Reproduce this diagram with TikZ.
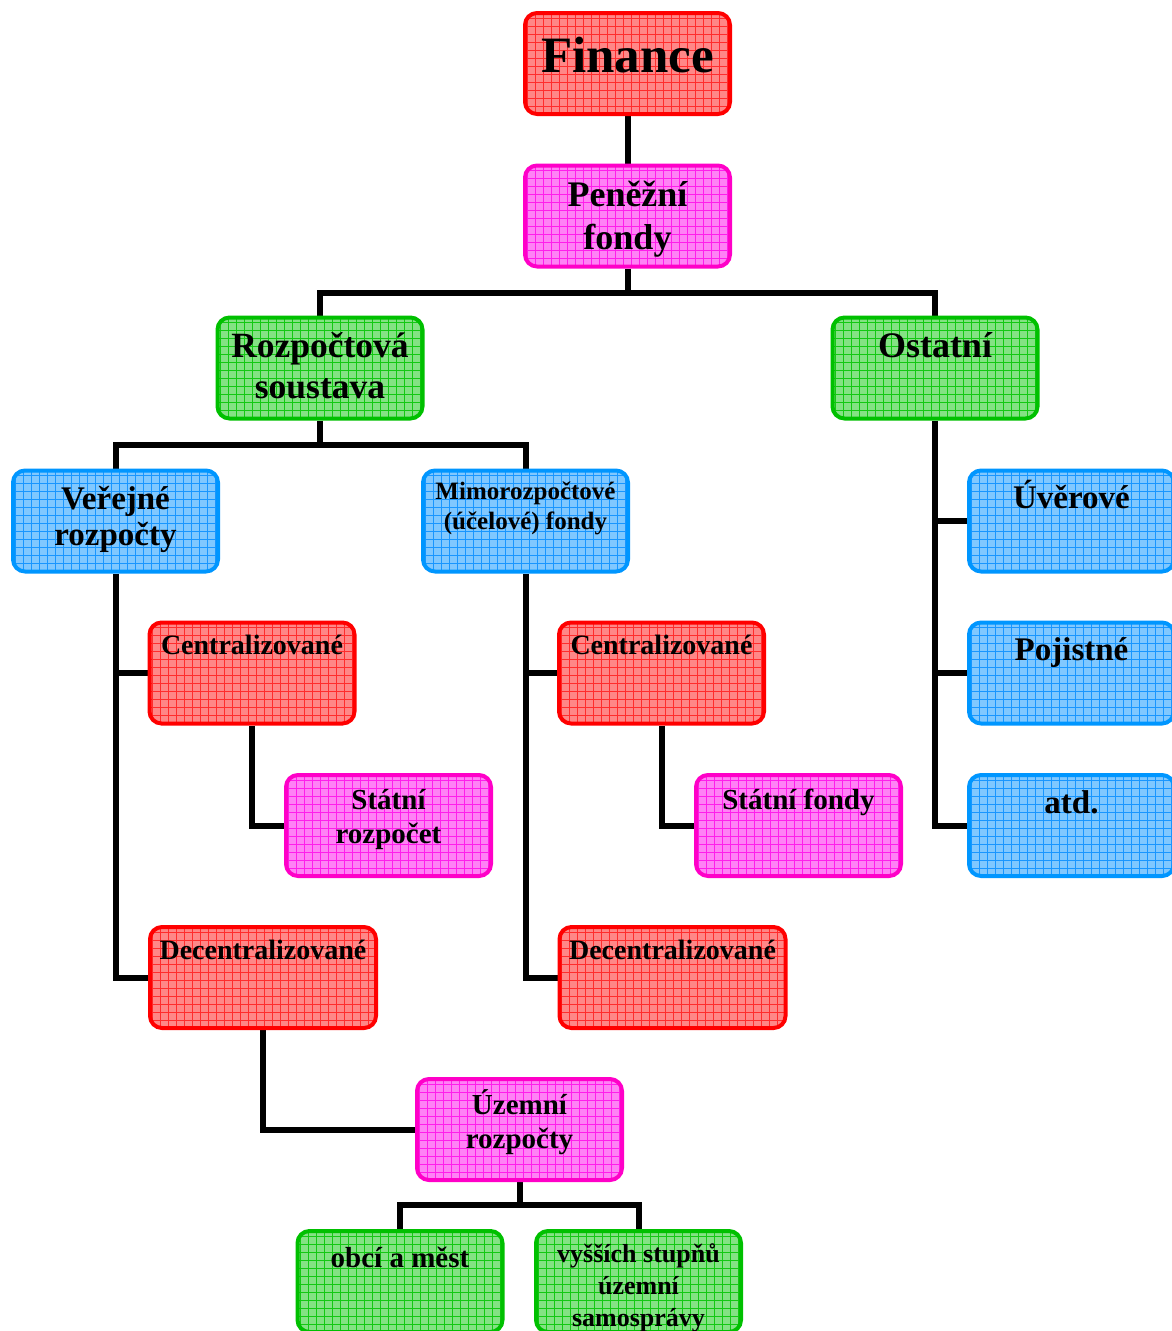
\documentclass[tikz,border=0pt]{standalone}
\usepackage{fontspec}
\setmainfont{Liberation Serif}
\usetikzlibrary{calc}
\definecolor{rB}{RGB}{255,0,0}
\definecolor{rF}{RGB}{255,135,135}
\definecolor{rG}{RGB}{255,45,45}
\definecolor{mB}{RGB}{255,0,200}
\definecolor{mF}{RGB}{255,130,245}
\definecolor{mG}{RGB}{255,30,235}
\definecolor{gB}{RGB}{0,192,0}
\definecolor{gF}{RGB}{132,226,132}
\definecolor{gG}{RGB}{20,200,20}
\definecolor{bB}{RGB}{0,150,255}
\definecolor{bF}{RGB}{128,200,255}
\definecolor{bG}{RGB}{25,150,255}
\newcommand{\bx}[5]{\parbox[c][101pt][t]{#1pt}{\centering\hyphenpenalty=10000\fontsize{#3}{#4}\selectfont\lineskiplimit=-100pt\rule{0pt}{#2pt}#5}}
\pgfdeclarelayer{bg}
\pgfsetlayers{bg,main}
\tikzset{
  box/.style={rounded corners=12pt, line width=4pt, inner sep=0pt,
    minimum height=101pt, minimum width=205pt, font=\bfseries},
  tiles/.style n args={3}{draw=#1, fill=#2,
    path picture={\draw[#3, line width=0.6pt, step=8pt]
      (path picture bounding box.south west) grid (path picture bounding box.north east);}},
  redbox/.style={box, tiles={rB}{rF}{rG}},
  magbox/.style={box, tiles={mB}{mF}{mG}},
  grnbox/.style={box, tiles={gB}{gF}{gG}},
  blubox/.style={box, tiles={bB}{bF}{bG}},
  wide/.style={minimum width=226pt},
  conn/.style={line width=6pt, black},
}
\begin{document}
\begin{tikzpicture}[x=1pt,y={(0pt,-1pt)}]
\useasboundingbox (0,0) rectangle (1172,1331);

\node[redbox] (fin) at (627.5,63.5) {\bx{200}{59}{51}{58}{Finance}};
\node[magbox] (pen) at (627.5,216) {\bx{200}{41}{36}{43}{Peněžní\\fondy}};
\node[grnbox] (roz) at (320,368) {\bx{200}{40}{35.5}{41}{Rozpočtová\\soustava}};
\node[grnbox] (ost) at (935,368) {\bx{200}{40}{36}{41}{Ostatní}};
\node[blubox] (ver) at (115.5,521) {\bx{200}{39}{33}{36}{Veřejné\\rozpočty}};
\node[blubox] (mim) at (525.5,521) {\bx{200}{29}{25}{30}{Mimorozpočtové\\(účelové) fondy}};
\node[blubox] (uve) at (1071.5,521) {\bx{200}{38}{33}{36}{Úvěrové}};
\node[blubox] (poj) at (1071.5,673) {\bx{200}{38}{33}{36}{Pojistné}};
\node[blubox] (atd) at (1071.5,825.5) {\bx{200}{38}{33}{36}{atd.}};
\node[redbox] (cen1) at (252,673) {\bx{200}{32}{28}{32}{Centralizované}};
\node[magbox] (str) at (388.5,825.5) {\bx{200}{34}{29}{34}{Státní\\rozpočet}};
\node[redbox] (cen2) at (661.5,673) {\bx{200}{32}{28}{32}{Centralizované}};
\node[magbox] (sfo) at (798.5,825.5) {\bx{200}{34}{29}{34}{Státní fondy}};
\node[redbox, wide] (dec1) at (263,977.5) {\bx{222}{32}{28}{32}{Decentralizované}};
\node[redbox, wide] (dec2) at (672.5,977.5) {\bx{222}{32}{28}{32}{Decentralizované}};
\node[magbox] (uze) at (519.5,1129.5) {\bx{200}{35}{29}{34}{Územní\\rozpočty}};
\node[grnbox] (obc) at (400,1281.5) {\bx{200}{36}{29}{34}{obcí a měst}};
\node[grnbox] (vys) at (638.5,1281.5) {\bx{200}{31}{26}{32}{vyšších stupňů\\územní\\samosprávy}};

\begin{pgfonlayer}{bg}
\fill[white] (0,0) rectangle (1172,1331);
\draw[conn] (fin.south) -- (pen.north);
\draw[conn] (pen.south) -- ++(0,24) coordinate (pj);
\draw[conn] (roz.north) |- (pj) -| (ost.north);
\draw[conn] (roz.south) -- ++(0,24) coordinate (rj);
\draw[conn] (ver.north) |- (rj) -| (mim.north);
\draw[conn] (ost.south) |- (atd.west);
\draw[conn] (ost.south |- uve.west) -- (uve.west);
\draw[conn] (ost.south |- poj.west) -- (poj.west);
\draw[conn] (ver.south) |- (dec1.west);
\draw[conn] (ver.south |- cen1.west) -- (cen1.west);
\draw[conn] (cen1.south) |- (str.west);
\draw[conn] (mim.south) |- (dec2.west);
\draw[conn] (mim.south |- cen2.west) -- (cen2.west);
\draw[conn] (cen2.south) |- (sfo.west);
\draw[conn] (dec1.south) |- (uze.west);
\draw[conn] (uze.south) -- ++(0,23) coordinate (uj);
\draw[conn] (obc.north) |- (uj) -| (vys.north);
\end{pgfonlayer}
\end{tikzpicture}
\end{document}
